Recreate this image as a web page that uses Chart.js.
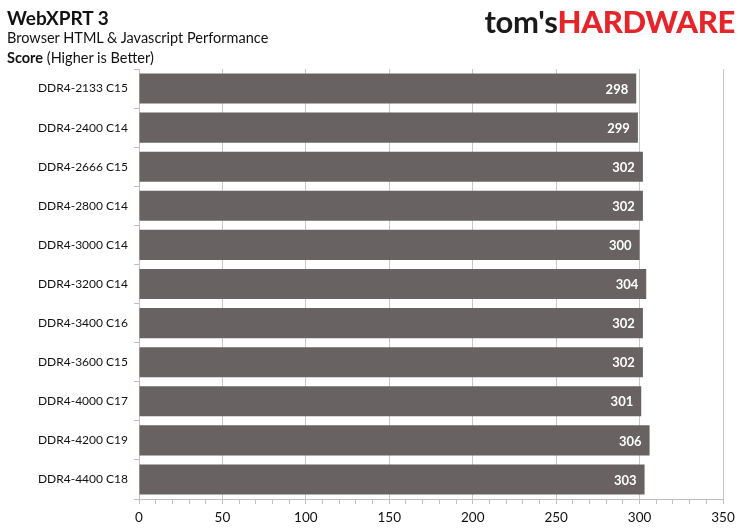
<!DOCTYPE html>
<html>
<head>
<meta charset="utf-8">
<script src="https://cdn.jsdelivr.net/npm/chart.js@4.4.1/dist/chart.umd.min.js"></script>
<style>
  html, body { margin: 0; padding: 0; background: #fff; }
  #wrap { position: relative; width: 744px; height: 532px; font-family: Lato, "Open Sans", sans-serif; }
  #chart { position: absolute; left: 0; top: 0; }
  .t { position: absolute; left: 7px; color: #111; white-space: nowrap; }
  #title { top: 6px; font-size: 19px; font-weight: bold; }
  #sub { top: 29px; font-size: 14.5px; }
  #unit { top: 49px; font-size: 14.5px; }
  #logo { position: absolute; right: 9px; top: 2px; font-size: 31px; font-weight: 900; letter-spacing: -0.3px; white-space: nowrap; }
  #logo .a { color: #1a1a1a; font-weight: bold; }
  #logo .b { color: #e4262b; }
</style>
</head>
<body>
<div id="wrap">
  <canvas id="chart" width="744" height="532"></canvas>
  <div class="t" id="title">WebXPRT 3</div>
  <div class="t" id="sub">Browser HTML &amp; Javascript Performance</div>
  <div class="t" id="unit"><b>Score</b> (Higher is Better)</div>
  <div id="logo"><span class="a">tom's</span><span class="b">HARDWARE</span></div>
</div>
<script>
// memory configs, top to bottom
const labels = [
    "DDR4-2133 C15", "DDR4-2400 C14", "DDR4-2666 C15", "DDR4-2800 C14",
    "DDR4-3000 C14", "DDR4-3200 C14", "DDR4-3400 C16", "DDR4-3600 C15",
    "DDR4-4000 C17", "DDR4-4200 C19", "DDR4-4400 C18"
];
const scores = [298, 299, 302, 302, 300, 304, 302, 302, 301, 306, 303];
const axisMax = 350;
const labelStep = 50;

// white score text near the end of each bar
const barValues = {
    id: 'barValues',
    afterDatasetsDraw(chart) {
        const ctx = chart.ctx;
        const meta = chart.getDatasetMeta(0);
        ctx.save();
        ctx.fillStyle = '#ffffff';
        ctx.font = 'bold 13px Lato, "Open Sans", sans-serif';
        ctx.textAlign = 'right';
        ctx.textBaseline = 'middle';
        meta.data.forEach((bar, i) => {
            ctx.fillText(scores[i], bar.x - 8, bar.y + 1);
        });
        ctx.restore();
    }
};

new Chart(document.getElementById('chart').getContext('2d'), {
    type: 'bar',
    data: {
        labels: labels,
        datasets: [{
            data: scores,
            backgroundColor: '#686362',
            barPercentage: 0.77,
            categoryPercentage: 1.0
        }]
    },
    options: {
        indexAxis: 'y',
        responsive: false,
        animation: false,
        layout: { padding: { top: 69, right: 21, left: 0, bottom: 0 } },
        plugins: {
            legend: { display: false },
            tooltip: { enabled: false }
        },
        scales: {
            x: {
                min: 0,
                max: axisMax,
                z: 1,
                afterFit: (s) => { s.height = 33; },
                border: { color: '#bfbfbf' },
                grid: {
                    color: (c) => (c.tick && c.tick.value % labelStep === 0 && c.tick.value !== 0) ? 'rgba(0,0,0,0.22)' : 'transparent',
                    tickColor: '#bfbfbf',
                    tickLength: 5
                },
                ticks: {
                    stepSize: 10,
                    autoSkip: false,
                    maxRotation: 0,
                    color: '#111',
                    padding: 6,
                    font: { family: 'Lato, "Open Sans", sans-serif', size: 13.5 },
                    callback: (v) => v % labelStep === 0 ? v : ''
                }
            },
            y: {
                afterFit: (s) => { s.width = 139; },
                border: { color: '#bfbfbf' },
                grid: {
                    offset: true,
                    drawOnChartArea: false,
                    tickColor: '#bfbfbf',
                    tickLength: 5
                },
                ticks: {
                    color: '#111',
                    padding: 6,
                    font: { family: 'Lato, "Open Sans", sans-serif', size: 12 }
                }
            }
        }
    },
    plugins: [barValues]
});
</script>
</body>
</html>
